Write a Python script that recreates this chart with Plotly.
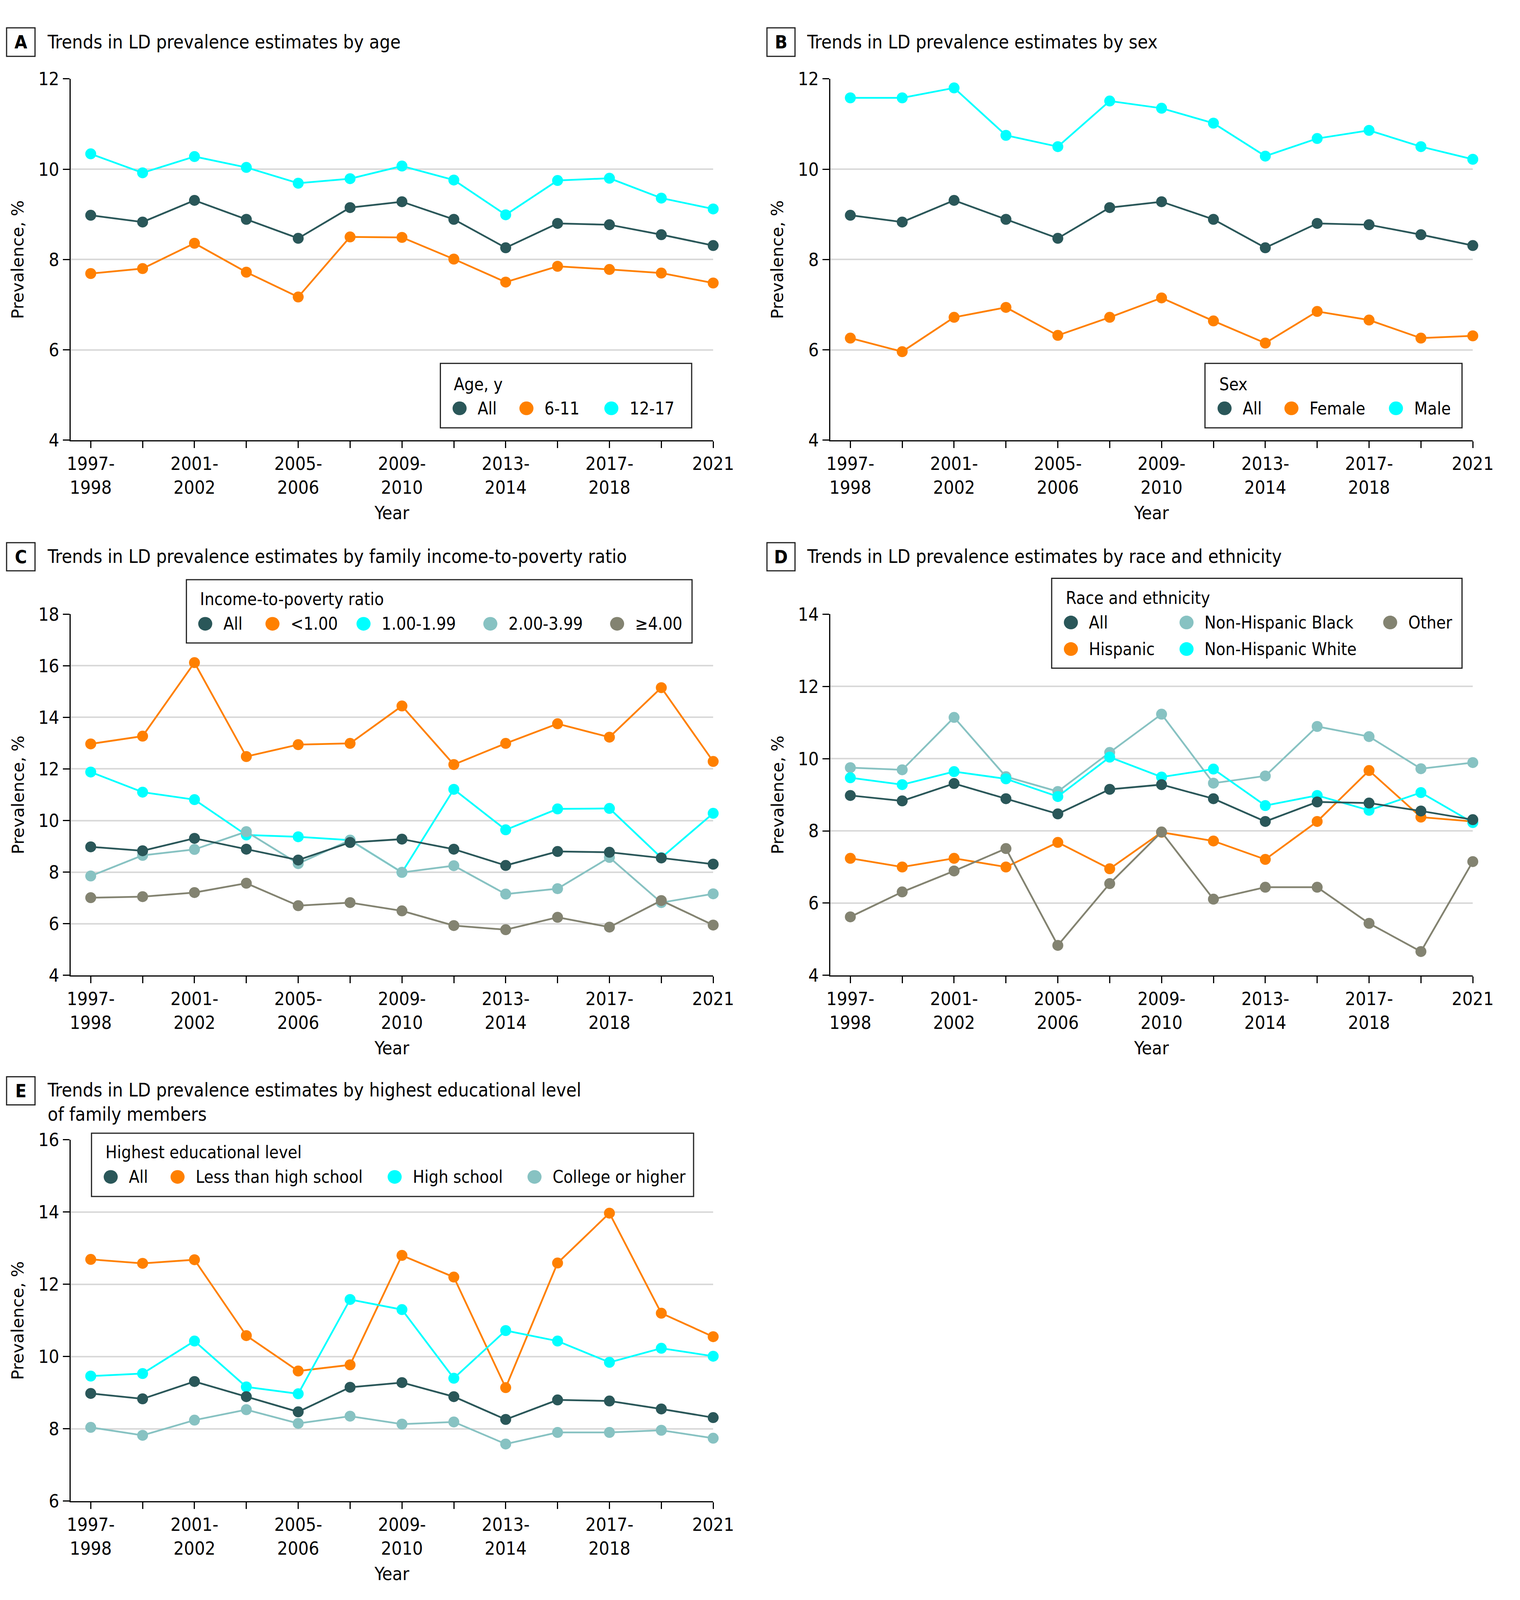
import plotly.graph_objects as go

# ---------------- data ----------------
years = ["1997-1998", "1999-2000", "2001-2002", "2003-2004", "2005-2006", "2007-2008",
         "2009-2010", "2011-2012", "2013-2014", "2015-2016", "2017-2018", "2019-2020", "2021"]

all_children = [8.98, 8.83, 9.31, 8.89, 8.47, 9.15, 9.28, 8.89, 8.26, 8.80, 8.77, 8.55, 8.31]

age_6_11 = [7.69, 7.80, 8.36, 7.72, 7.17, 8.50, 8.49, 8.01, 7.50, 7.85, 7.78, 7.70, 7.48]
age_12_17 = [10.34, 9.92, 10.28, 10.04, 9.69, 9.79, 10.07, 9.76, 8.99, 9.75, 9.80, 9.36, 9.12]

female = [6.26, 5.96, 6.72, 6.94, 6.32, 6.72, 7.15, 6.64, 6.15, 6.85, 6.66, 6.26, 6.31]
male = [11.58, 11.58, 11.80, 10.75, 10.50, 11.51, 11.35, 11.02, 10.29, 10.68, 10.86, 10.50, 10.22]

inc_lt1 = [12.97, 13.27, 16.12, 12.48, 12.94, 12.99, 14.44, 12.17, 12.99, 13.75, 13.23, 15.15, 12.29]
inc_1_2 = [11.88, 11.10, 10.81, 9.44, 9.37, 9.24, 7.99, 11.21, 9.64, 10.45, 10.47, 8.56, 10.28]
inc_2_4 = [7.85, 8.65, 8.88, 9.57, 8.33, 9.24, 7.99, 8.25, 7.15, 7.36, 8.57, 6.82, 7.16]
inc_ge4 = [7.01, 7.05, 7.21, 7.57, 6.70, 6.82, 6.50, 5.93, 5.77, 6.25, 5.87, 6.90, 5.95]

hispanic = [7.24, 7.00, 7.24, 7.00, 7.68, 6.95, 7.96, 7.72, 7.21, 8.26, 9.67, 8.38, 8.26]
nh_black = [9.75, 9.69, 11.14, 9.50, 9.09, 10.17, 11.23, 9.32, 9.52, 10.89, 10.61, 9.72, 9.89]
nh_white = [9.47, 9.28, 9.64, 9.44, 8.95, 10.04, 9.49, 9.71, 8.70, 8.98, 8.57, 9.06, 8.23]
other = [5.62, 6.31, 6.89, 7.51, 4.83, 6.54, 7.97, 6.11, 6.44, 6.44, 5.44, 4.66, 7.15]

edu_lths = [12.69, 12.58, 12.68, 10.58, 9.60, 9.77, 12.80, 12.20, 9.14, 12.59, 13.97, 11.20, 10.55]
edu_hs = [9.46, 9.53, 10.43, 9.16, 8.97, 11.58, 11.30, 9.40, 10.72, 10.43, 9.84, 10.23, 10.01]
edu_college = [8.04, 7.82, 8.24, 8.53, 8.15, 8.35, 8.13, 8.19, 7.58, 7.90, 7.90, 7.96, 7.74]

tick_labels = [y.replace("-", "-<br>") if i % 2 == 0 else "" for i, y in enumerate(years)]

# ---------------- style ----------------
W, H = 3892, 4483          # reference pixel grid used for relative placement
COND = "DejaVu Sans Condensed, DejaVu Sans, sans-serif"
REG = "DejaVu Sans, sans-serif"
C_ALL = "#2a5759"
C_OR = "#ff8000"
C_CY = "#00ffff"
C_LT = "#87c2c2"
C_GR = "#838371"
LEG_FONT = 44


def fx(x):
    return x / W


def fy(y):
    return 1 - y / H


LEFT = (175, 1847)
RIGHT = (2152, 3824)
ROW1 = (193, 1219)
ROW2 = (1713, 2739)
ROW3 = (3206, 4232)

panels = {
    "A": dict(ax="", xpx=LEFT, ypx=ROW1, yr=[4, 12]),
    "B": dict(ax="2", xpx=RIGHT, ypx=ROW1, yr=[4, 12]),
    "C": dict(ax="3", xpx=LEFT, ypx=ROW2, yr=[4, 18]),
    "D": dict(ax="4", xpx=RIGHT, ypx=ROW2, yr=[4, 14]),
    "E": dict(ax="5", xpx=LEFT, ypx=ROW3, yr=[6, 16]),
}

series = {
    "A": [("6-11", age_6_11, C_OR), ("12-17", age_12_17, C_CY), ("All", all_children, C_ALL)],
    "B": [("Female", female, C_OR), ("Male", male, C_CY), ("All", all_children, C_ALL)],
    "C": [("<1.00", inc_lt1, C_OR), ("1.00-1.99", inc_1_2, C_CY), ("2.00-3.99", inc_2_4, C_LT),
          ("≥4.00", inc_ge4, C_GR), ("All", all_children, C_ALL)],
    "D": [("Hispanic", hispanic, C_OR), ("Non-Hispanic Black", nh_black, C_LT),
          ("Non-Hispanic White", nh_white, C_CY), ("Other", other, C_GR), ("All", all_children, C_ALL)],
    "E": [("Less than high school", edu_lths, C_OR), ("High school", edu_hs, C_CY),
          ("College or higher", edu_college, C_LT), ("All", all_children, C_ALL)],
}

titles = {
    "A": ("Trends in LD prevalence estimates by age", 112, 88),
    "B": ("Trends in LD prevalence estimates by sex", 2089, 88),
    "C": ("Trends in LD prevalence estimates by family income-to-poverty ratio", 112, 1549),
    "D": ("Trends in LD prevalence estimates by race and ethnicity", 2089, 1549),
    "E": ("Trends in LD prevalence estimates by highest educational level<br>of family members", 112, 3098),
}
label_boxes = {
    "A": (8, 52, 82, 125),
    "B": (1987, 52, 2060, 125),
    "C": (8, 1514, 82, 1586),
    "D": (1987, 1514, 2060, 1586),
    "E": (8, 3031, 82, 3103),
}

legends = {
    "A": dict(box=(1137, 1010, 1791, 1175), title=("Age, y", 1170, 1063),
              items=[("All", C_ALL, 1187, 1125), ("6-11", C_OR, 1361, 1125), ("12-17", C_CY, 1582, 1125)]),
    "B": dict(box=(3127, 1010, 3796, 1175), title=("Sex", 3162, 1063),
              items=[("All", C_ALL, 3178, 1125), ("Female", C_OR, 3352, 1125), ("Male", C_CY, 3624, 1125)]),
    "C": dict(box=(476, 1624, 1792, 1786), title=("Income-to-poverty ratio", 509, 1674),
              items=[("All", C_ALL, 525, 1737), ("<1.00", C_OR, 700, 1737), ("1.00-1.99", C_CY, 937, 1737),
                     ("2.00-3.99", C_LT, 1267, 1737), ("≥4.00", C_GR, 1597, 1737)]),
    "D": dict(box=(2728, 1624, 3796, 1854), title=("Race and ethnicity", 2763, 1674),
              items=[("All", C_ALL, 2778, 1737), ("Non-Hispanic Black", C_LT, 3079, 1737),
                     ("Other", C_GR, 3609, 1737), ("Hispanic", C_OR, 2778, 1805),
                     ("Non-Hispanic White", C_CY, 3079, 1805)]),
    "E": dict(box=(229, 3196, 1796, 3358), title=("Highest educational level", 263, 3245),
              items=[("All", C_ALL, 279, 3308), ("Less than high school", C_OR, 453, 3308),
                     ("High school", C_CY, 1018, 3308), ("College or higher", C_LT, 1382, 3308)]),
}

fig = go.Figure()
layout = dict(autosize=True, margin=dict(l=0, r=0, t=0, b=0),
              paper_bgcolor="white", plot_bgcolor="white", showlegend=False)
shapes = []
annotations = []


def px_rect(x0, y0, x1, y1, cy, **kw):
    """rect with pixel-exact height, anchored at reference row cy"""
    return dict(type="rect", xref="paper", yref="paper", x0=fx(x0), x1=fx(x1),
                ysizemode="pixel", yanchor=fy(cy), y0=-(y1 - cy), y1=-(y0 - cy), **kw)


for key, p in panels.items():
    ax = p["ax"]
    for name, vals, col in series[key]:
        fig.add_trace(go.Scatter(
            x=years, y=vals, name=name, mode="lines+markers",
            xaxis="x" + ax, yaxis="y" + ax, cliponaxis=False,
            line=dict(color=col, width=4.5),
            marker=dict(color=col, size=28),
        ))
    layout["xaxis" + ax] = dict(
        domain=[fx(p["xpx"][0]), fx(p["xpx"][1])], anchor="y" + ax,
        type="category", categoryorder="array", categoryarray=years,
        range=[-0.385, 12], tickvals=years, ticktext=tick_labels,
        showline=True, linecolor="black", linewidth=3, showgrid=False, zeroline=False,
        ticks="outside", ticklen=17, tickwidth=3, tickcolor="black",
        tickfont=dict(family=COND, size=47, color="black"), tickangle=0,
    )
    layout["yaxis" + ax] = dict(
        domain=[fy(p["ypx"][1]), fy(p["ypx"][0])], anchor="x" + ax,
        range=p["yr"], dtick=2, tick0=0,
        showline=True, linecolor="black", linewidth=3,
        showgrid=True, gridcolor="#d9d9d9", gridwidth=4, zeroline=False,
        ticks="outside", ticklen=17, tickwidth=3, tickcolor="black",
        tickfont=dict(family=COND, size=47, color="black"),
    )
    # axis titles
    xc = (p["xpx"][0] + p["xpx"][1]) / 2
    annotations.append(dict(text="Year", x=fx(xc), y=fy(p["ypx"][1]), yshift=-186, xref="paper", yref="paper",
                            showarrow=False, xanchor="center", yanchor="middle",
                            font=dict(family=COND, size=47, color="black")))
    yc = (p["ypx"][0] + p["ypx"][1]) / 2
    annotations.append(dict(text="Prevalence, %", x=fx(p["xpx"][0] - 138), y=fy(yc), xref="paper", yref="paper",
                            showarrow=False, xanchor="center", yanchor="middle", textangle=-90,
                            font=dict(family=REG, size=43, color="black")))
    # panel title and letter box
    t, tx, ty = titles[key]
    annotations.append(dict(text=t, x=fx(tx), y=fy(ty), xref="paper", yref="paper", showarrow=False,
                            xanchor="left", yanchor="middle", align="left",
                            font=dict(family=COND, size=48, color="black")))
    bx0, by0, bx1, by1 = label_boxes[key]
    bcy = (by0 + by1) / 2
    shapes.append(px_rect(bx0, by0, bx1, by1, bcy, line=dict(color="#222222", width=3),
                          fillcolor="rgba(0,0,0,0)"))
    annotations.append(dict(text="<b>" + key + "</b>", x=fx((bx0 + bx1) / 2), y=fy(bcy),
                            xref="paper", yref="paper", showarrow=False, xanchor="center", yanchor="middle",
                            font=dict(family=COND, size=47, color="black")))
    # legend (pixel-exact internals, anchored at the box centre)
    lg = legends[key]
    lx0, ly0, lx1, ly1 = lg["box"]
    lcy = (ly0 + ly1) / 2
    shapes.append(px_rect(lx0, ly0, lx1, ly1, lcy, line=dict(color="#222222", width=3),
                          fillcolor="white", layer="above"))
    lt, ltx, lty = lg["title"]
    annotations.append(dict(text=lt, x=fx(ltx), y=fy(lcy), yshift=-(lty - lcy), xref="paper", yref="paper",
                            showarrow=False, xanchor="left", yanchor="middle",
                            font=dict(family=COND, size=LEG_FONT, color="black")))
    for name, col, mx, my in lg["items"]:
        off = -(my - lcy)
        shapes.append(dict(type="circle", xref="paper", yref="paper", xsizemode="pixel", ysizemode="pixel",
                           xanchor=fx(mx), yanchor=fy(lcy), x0=-18, x1=18, y0=off - 17.5, y1=off + 17.5,
                           fillcolor=col, line=dict(width=0), layer="above"))
        annotations.append(dict(text=name, x=fx(mx + 45), y=fy(lcy), yshift=off, xref="paper", yref="paper",
                                showarrow=False, xanchor="left", yanchor="middle",
                                font=dict(family=COND, size=LEG_FONT, color="black")))

layout["shapes"] = shapes
layout["annotations"] = annotations
fig.update_layout(**layout)
fig.write_html(
    "out.html",
    default_width="100vw",
    default_height="100vh",
    config={"displayModeBar": False},
    post_script="document.body.style.margin='0';document.body.style.overflow='hidden';",
)
